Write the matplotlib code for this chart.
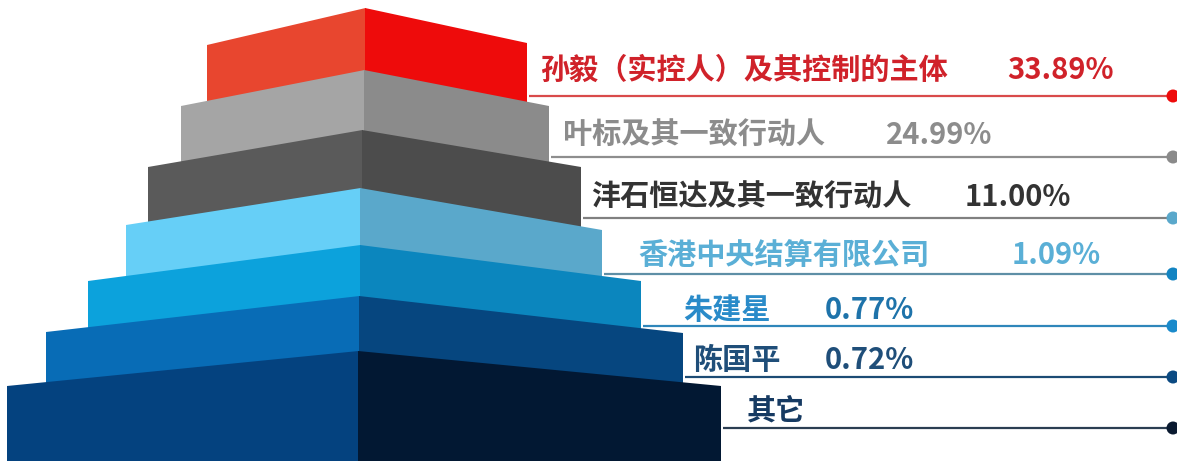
import matplotlib
matplotlib.use("Agg")
import matplotlib.pyplot as plt
from matplotlib.patches import Polygon, Circle

plt.rcParams['font.family'] = ['Noto Sans CJK SC', 'DejaVu Sans']

# ---- data ----
names = ["孙毅（实控人）及其控制的主体", "叶标及其一致行动人", "沣石恒达及其一致行动人",
         "香港中央结算有限公司", "朱建星", "陈国平", "其它"]
shares = ["33.89%", "24.99%", "11.00%", "1.09%", "0.77%", "0.72%", ""]

# ---- styles ----
front_colors = ["#E8462F", "#A5A5A5", "#5A5A5A", "#66CFF7", "#0CA2DC", "#086CB6", "#04427F"]
side_colors = ["#EE0B0B", "#8B8B8B", "#4C4C4C", "#5AA8CB", "#0B86BE", "#06467F", "#021833"]
name_colors = ["#D0222A", "#8C8C8C", "#333333", "#5AAFD6", "#2A8BC9", "#1F4E79", "#163A62"]
value_colors = ["#D0222A", "#8C8C8C", "#333333", "#5AAFD6", "#1E73AA", "#1F4E79", "#163A62"]
line_colors = ["#D94A4A", "#8E8E8E", "#808080", "#5E8FA6", "#2F86BA", "#1C4B74", "#2B3E52"]
dot_colors = ["#EE0B0B", "#8A8A8A", "#5AA8CB", "#1284C2", "#1A8ACB", "#0B4A82", "#0A1A30"]

# ---- layout (pixel coordinates) ----
W, H = 1177, 463
left_x = [207, 181, 148, 126, 88, 46, 7]
right_x = [527, 549, 581, 602, 641, 683, 721]
apex_x = [365, 364, 362, 360, 360, 359, 358]
top_apex_y = [8, 70, 130, 188, 245, 296, 351]
top_left_y = [45, 106, 167, 225, 281, 332, 386]
top_right_y = [43, 106, 167, 230, 281, 333, 386]
base_y = 461
line_y = [96, 157, 218, 274, 326, 377, 428]
dot_x = 1173
name_x = [540, 563, 591, 638, 683, 693, 747]
value_x = [1007, 886, 965, 1012, 825, 825, 0]
text_y = [70, 135, 197, 255, 310, 360, 410]

fig = plt.figure(figsize=(W / 100, H / 100), dpi=100)
ax = fig.add_axes([0, 0, 1, 1])
ax.set_xlim(0, W)
ax.set_ylim(H, 0)
ax.axis("off")

for i in range(len(names)):
    lf = Polygon([(left_x[i], top_left_y[i]), (apex_x[i] + 0.6, top_apex_y[i]),
                  (apex_x[i] + 0.6, base_y), (left_x[i], base_y)],
                 closed=True, facecolor=front_colors[i], edgecolor="none", zorder=2 + i)
    rf = Polygon([(apex_x[i], top_apex_y[i]), (right_x[i], top_right_y[i]),
                  (right_x[i], base_y), (apex_x[i], base_y)],
                 closed=True, facecolor=side_colors[i], edgecolor="none", zorder=2 + i)
    ax.add_patch(lf)
    ax.add_patch(rf)

    ax.plot([right_x[i] + 2, dot_x], [line_y[i], line_y[i]], color=line_colors[i],
            lw=1.6, solid_capstyle="butt", zorder=1)
    ax.add_patch(Circle((dot_x, line_y[i]), 6.5, facecolor=dot_colors[i],
                        edgecolor="none", zorder=20))

    ax.text(name_x[i], text_y[i], names[i], color=name_colors[i], fontsize=21,
            fontweight="bold", ha="left", va="center", zorder=30)
    if shares[i]:
        ax.text(value_x[i], text_y[i], shares[i], color=value_colors[i], fontsize=21,
                fontweight="bold", ha="left", va="center", zorder=30)

fig.savefig("out.png", dpi=100)
